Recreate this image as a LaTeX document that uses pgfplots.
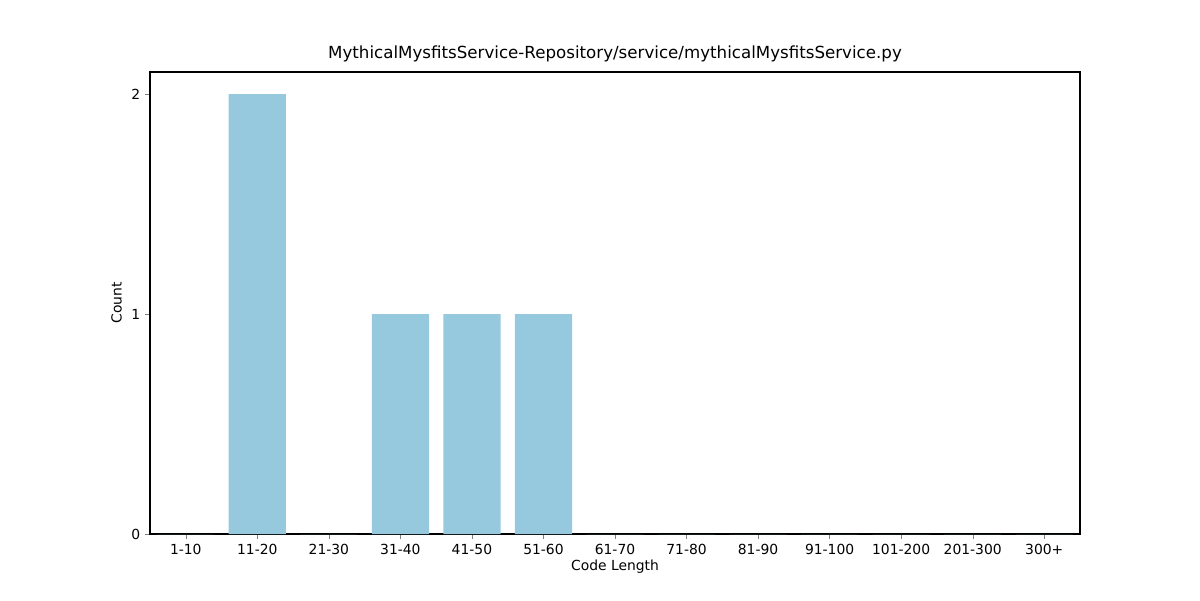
\documentclass[border=0pt]{standalone}
\usepackage{pgfplots}
\pgfplotsset{compat=1.18}
\usepackage{fontspec}
\setmainfont{DejaVu Sans}
\definecolor{barc}{RGB}{150,201,222}
\begin{document}
\begin{tikzpicture}
\useasboundingbox (-108pt,-47.52pt) rectangle (756pt,384.48pt);
\begin{axis}[
  at={(0,0)}, anchor=south west,
  scale only axis, width=669.6pt, height=332.64pt,
  xmin=-0.5, xmax=12.5, ymin=0, ymax=2.1,
  xtick={0,...,12},
  xticklabels={1-10,11-20,21-30,31-40,41-50,51-60,61-70,71-80,81-90,91-100,101-200,201-300,300+},
  ytick={0,1,2},
  tick align=outside, tick pos=left,
  major tick length=3.5pt,
  /pgf/number format/assume math mode=true,
  tick label style={font=\fontsize{10}{12}\selectfont},
  label style={font=\fontsize{10}{12}\selectfont},
  xlabel={Code Length}, ylabel={Count},
  xlabel style={yshift=3pt},
  title={MythicalMysfitsService-Repository/service/mythicalMysfitsService.py},
  title style={font=\fontsize{12}{14}\selectfont, yshift=-2pt},
  ybar, bar width=0.8, bar shift=0pt,
  axis line style={black, line width=0.8pt},
]
\addplot[fill=barc, draw=none] coordinates {(0,0) (1,2) (2,0) (3,1) (4,1) (5,1) (6,0) (7,0) (8,0) (9,0) (10,0) (11,0) (12,0)};
\end{axis}
\end{tikzpicture}
\end{document}
